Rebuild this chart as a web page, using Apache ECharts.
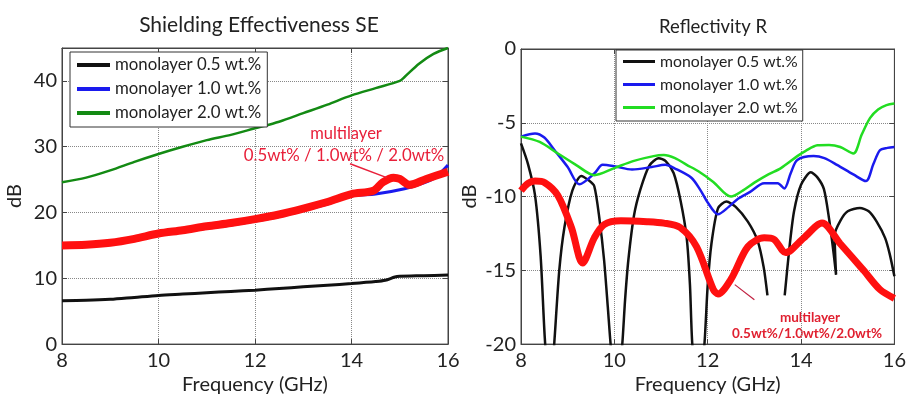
<!DOCTYPE html>
<html>
<head>
<meta charset="utf-8">
<script src="https://cdn.jsdelivr.net/npm/echarts@6/dist/echarts.min.js"></script>
<style>html,body{margin:0;padding:0;background:#fff}#c{width:909px;height:400px}</style>
</head>
<body>
<div id="c"></div>
<script>
// ---------- Data: Shielding Effectiveness SE (dB) ----------
const seNames = ['monolayer 0.5 wt.%', 'monolayer 1.0 wt.%', 'monolayer 2.0 wt.%'];
const freqSE05 = [8,8.5,9,9.5,10,10.5,11,11.5,12,12.5,13,13.5,14,14.5,14.7,14.9,15,15.5,16];
const se05     = [6.6,6.65,6.8,7.1,7.4,7.6,7.8,8.0,8.2,8.45,8.7,8.95,9.2,9.5,9.7,10.2,10.3,10.4,10.5];
const freqSE10 = [8,8.5,9,9.5,10,10.5,11,11.5,12,12.5,13,13.5,14,14.5,15.1,15.5,15.75,16];
const se10     = [14.9,15.0,15.3,15.9,16.6,17.1,17.6,18.1,18.7,19.4,20.3,21.3,22.5,22.8,23.6,24.5,25.4,27.2];
const freqSE20 = [8,8.5,9,9.5,10,10.5,11,11.5,12,12.5,13,13.5,14,14.5,15,15.1,15.4,15.7,16];
const se20     = [24.6,25.3,26.4,27.7,28.9,30.0,31.0,31.8,32.8,33.8,35.1,36.4,37.8,38.9,40.0,40.6,42.6,44.1,45.0];
const freqSEml = [8,8.5,9,9.5,10,10.5,11,11.5,12,12.5,13,13.5,14,14.45,14.65,14.87,15,15.2,15.55,16];
const seMl     = [15.0,15.1,15.4,16.0,16.8,17.3,17.9,18.4,19.0,19.7,20.6,21.6,22.8,23.3,24.6,25.3,25.1,24.2,25.1,26.2];

// ---------- Data: Reflectivity R (dB) ----------
const freqR05 = [8,8.15,8.3,8.42,8.51,8.62,8.72,8.82,8.93,9.1,9.29,9.45,9.57,9.68,9.78,9.86,9.92,10.05,10.17,10.23,10.3,10.42,10.56,10.75,10.95,11.1,11.27,11.42,11.55,11.62,11.67,11.8,11.93,12.0,12.08,12.22,12.4,12.6,12.86,13.07,13.2,13.28,13.45,13.65,13.75,13.85,14.0,14.21,14.35,14.49,14.6,14.7,14.75,14.72,14.85,15.0,15.26,15.45,15.62,15.8,15.9,16];
const r05     = [-6.4,-7.8,-9.9,-14,-19.6,-24,-19.6,-15,-12.1,-9.6,-8.6,-8.9,-9.3,-11.5,-14.3,-17.5,-20,-24,-20,-17,-14.3,-11.3,-9.5,-7.9,-7.4,-7.6,-8.4,-10.3,-12.8,-16,-20,-24,-20,-16,-13.2,-10.8,-10.33,-10.7,-11.7,-13.0,-14.8,-16.7,'-',-16.7,-13.5,-11.0,-9.2,-8.36,-8.7,-9.5,-11.5,-13.9,-15.3,-12.6,-11.6,-11.0,-10.77,-11.0,-11.7,-12.8,-13.9,-15.4];
const freqR10 = [8,8.3,8.5,8.72,9.0,9.25,9.57,9.75,10.0,10.38,10.8,11.09,11.3,11.65,11.85,12.0,12.22,12.45,12.65,12.9,13.21,13.5,13.64,13.78,13.92,14.27,14.5,14.77,15.12,15.39,15.55,15.69,15.85,16];
const r10     = [-5.94,-5.72,-6.0,-6.86,-8.0,-9.17,-8.44,-7.85,-7.95,-8.17,-8.0,-7.85,-8.1,-8.73,-9.6,-10.4,-11.2,-10.7,-10.15,-9.7,-9.1,-9.1,-9.45,-8.4,-7.52,-7.26,-7.4,-7.85,-8.5,-8.95,-7.8,-6.86,-6.7,-6.64];
const freqR20 = [8,8.4,8.79,9.2,9.57,10.0,10.4,10.84,11.06,11.3,11.55,11.8,12.12,12.5,12.75,13.0,13.3,13.57,13.92,14.1,14.35,14.6,14.84,15.12,15.3,15.48,15.65,15.83,16];
const r20     = [-5.94,-6.3,-7.08,-7.9,-8.55,-8.07,-7.6,-7.26,-7.19,-7.4,-7.85,-8.29,-9.01,-10.0,-9.6,-9.06,-8.5,-8.07,-7.26,-6.9,-6.53,-6.5,-6.64,-7.08,-5.8,-4.67,-4.1,-3.8,-3.7];
const freqRml = [8,8.15,8.3,8.51,8.79,9.08,9.32,9.57,9.78,10.14,10.7,11.06,11.41,11.76,12.12,12.22,12.5,12.86,13.21,13.42,13.67,14.06,14.45,14.84,15.34,15.69,16];
const rMl     = [-9.6,-9.1,-8.95,-9.06,-9.93,-12.1,-14.5,-12.8,-11.9,-11.64,-11.7,-11.8,-12.1,-13.4,-16.3,-16.6,-15.6,-13.4,-12.8,-12.9,-13.8,-12.8,-11.8,-13.2,-15.0,-16.3,-16.9];

// tick / text
const freqTicks = [8, 16, 2];
const seRange = [0, 45, 10];
const rRange = [-20, 0, 5];
const titles = ['Shielding Effectiveness SE', 'Reflectivity R'];
const xName = 'Frequency (GHz)';
const yName = 'dB';
const annotLines = ['multilayer', '0.5wt% / 1.0wt% / 2.0wt%', '0.5wt%/1.0wt%/2.0wt%'];

function pairs(xs, ys) { return xs.map((x, i) => [x, ys[i]]); }

const FONT = 'Lato, "Open Sans", sans-serif';
const RED = '#ff1010';
const ANN = '#e8203a';

const chart = echarts.init(document.getElementById('c'), null, {renderer: 'canvas'});

function xAxisOf(gi, nameGap) {
  return {
    type: 'value', gridIndex: gi, min: freqTicks[0], max: freqTicks[1], interval: freqTicks[2],
    name: xName, nameLocation: 'middle', nameGap: nameGap,
    nameTextStyle: {fontFamily: FONT, fontSize: 20, color: '#222'},
    axisLine: {show: true, onZero: false, lineStyle: {color: '#444', width: 1}},
    axisTick: {show: true, inside: true, length: 5, lineStyle: {color: '#444'}},
    axisLabel: {fontFamily: FONT, fontSize: 20, color: '#222', margin: 6},
    splitLine: {show: true, lineStyle: {type: 'dotted', color: '#888', width: 1}}
  };
}
function yAxisOf(gi, range, nameGap, hideMax) {
  return {
    type: 'value', gridIndex: gi, min: range[0], max: range[1], interval: range[2],
    name: yName, nameLocation: 'middle', nameGap: nameGap, nameRotate: 90,
    nameTextStyle: {fontFamily: FONT, fontSize: 20, color: '#222'},
    axisLine: {show: true, onZero: false, lineStyle: {color: '#444', width: 1}},
    axisTick: {show: true, inside: true, length: 5, lineStyle: {color: '#444'}},
    axisLabel: {fontFamily: FONT, fontSize: 20, color: '#222', margin: 5,
      formatter: v => (hideMax && v === range[1]) ? '' : String(v)},
    splitLine: {show: true, lineStyle: {type: 'dotted', color: '#888', width: 1}}
  };
}
// box axes (top / right) with inward ticks, no labels
function xBoxAxis(gi) {
  return {type: 'value', gridIndex: gi, position: 'top', min: freqTicks[0], max: freqTicks[1], interval: freqTicks[2],
    axisLine: {show: true, onZero: false, lineStyle: {color: '#444'}},
    axisTick: {show: true, inside: true, length: 5, lineStyle: {color: '#444'}},
    axisLabel: {show: false}, splitLine: {show: false}};
}
function yBoxAxis(gi, range) {
  return {type: 'value', gridIndex: gi, position: 'right', min: range[0], max: range[1], interval: range[2],
    axisLine: {show: true, onZero: false, lineStyle: {color: '#444'}},
    axisTick: {show: true, inside: true, length: 5, lineStyle: {color: '#444'}},
    axisLabel: {show: false}, splitLine: {show: false}};
}

const option = {
  backgroundColor: '#fff',
  animation: false,
  title: [
    {text: titles[0], left: 254, top: 10, textAlign: 'center',
     textStyle: {fontFamily: FONT, fontSize: 21, fontWeight: 'normal', color: '#222'}},
    {text: titles[1], left: 708, top: 13, textAlign: 'center',
     textStyle: {fontFamily: FONT, fontSize: 18.5, fontWeight: 'normal', color: '#222'}}
  ],
  grid: [
    {left: 62, right: 461, top: 48, bottom: 51, show: true, borderColor: '#444', borderWidth: 1},
    {left: 521, right: 11, top: 49, bottom: 47, show: true, borderColor: '#444', borderWidth: 1}
  ],
  xAxis: [xAxisOf(0, 27), xAxisOf(1, 26), xBoxAxis(0), xBoxAxis(1)],
  yAxis: [yAxisOf(0, seRange, 37, true), yAxisOf(1, rRange, 41, false), yBoxAxis(0, seRange), yBoxAxis(1, rRange)],
  legend: [
    {
      left: 70, top: 52, orient: 'vertical', icon: 'rect', itemWidth: 33, itemHeight: 4, itemGap: 4,
      padding: [3, 6, 4, 7], borderColor: '#333', borderWidth: 1, backgroundColor: '#fff',
      textStyle: {fontFamily: FONT, fontSize: 16.8, color: '#222', lineHeight: 20},
      selectedMode: false,
      data: [
        {name: seNames[0], itemStyle: {color: '#111'}},
        {name: seNames[1], itemStyle: {color: '#1a1aee'}},
        {name: seNames[2], itemStyle: {color: '#138a13'}}
      ]
    },
    {
      left: 616, top: 50, orient: 'vertical', icon: 'rect', itemWidth: 32, itemHeight: 3, itemGap: 4,
      padding: [2, 5, 4, 7], borderColor: '#333', borderWidth: 1, backgroundColor: '#fff',
      textStyle: {fontFamily: FONT, fontSize: 15.8, color: '#222', lineHeight: 19},
      selectedMode: false,
      data: [
        {name: seNames[0], itemStyle: {color: '#111'}},
        {name: seNames[1], itemStyle: {color: '#1a1aee'}},
        {name: seNames[2], itemStyle: {color: '#22dd22'}}
      ]
    }
  ],
  series: [
    {name: seNames[2], type: 'line', xAxisIndex: 0, yAxisIndex: 0, data: pairs(freqSE20, se20),
     showSymbol: false, smooth: 0.3, lineStyle: {color: '#138a13', width: 2.5}, itemStyle: {color: '#138a13'}},
    {name: seNames[0], type: 'line', xAxisIndex: 0, yAxisIndex: 0, data: pairs(freqSE05, se05),
     showSymbol: false, smooth: 0.3, lineStyle: {color: '#111', width: 3}, itemStyle: {color: '#111'}},
    {name: seNames[1], type: 'line', xAxisIndex: 0, yAxisIndex: 0, data: pairs(freqSE10, se10),
     showSymbol: false, smooth: 0.3, lineStyle: {color: '#1a1aee', width: 3}, itemStyle: {color: '#1a1aee'}},
    {name: 'multilayer SE', type: 'line', xAxisIndex: 0, yAxisIndex: 0, data: pairs(freqSEml, seMl),
     showSymbol: false, smooth: 0.3, lineStyle: {color: RED, width: 8}, itemStyle: {color: RED},
     markLine: {silent: true, symbol: 'none', label: {show: false},
       lineStyle: {color: ANN, width: 1.5, type: 'solid'},
       data: [[{coord: [13.97, 27.4]}, {coord: [14.73, 25.3]}]]}},

    {name: seNames[0], type: 'line', xAxisIndex: 1, yAxisIndex: 1, data: pairs(freqR05, r05),
     showSymbol: false, smooth: 0.25, connectNulls: false, lineStyle: {color: '#111', width: 2.5}, itemStyle: {color: '#111'}},
    {name: seNames[1], type: 'line', xAxisIndex: 1, yAxisIndex: 1, data: pairs(freqR10, r10),
     showSymbol: false, smooth: 0.3, lineStyle: {color: '#1a1aee', width: 2.5}, itemStyle: {color: '#1a1aee'}},
    {name: seNames[2], type: 'line', xAxisIndex: 1, yAxisIndex: 1, data: pairs(freqR20, r20),
     showSymbol: false, smooth: 0.3, lineStyle: {color: '#22dd22', width: 2.5}, itemStyle: {color: '#22dd22'}},
    {name: 'multilayer R', type: 'line', xAxisIndex: 1, yAxisIndex: 1, data: pairs(freqRml, rMl),
     showSymbol: false, smooth: 0.3, lineStyle: {color: RED, width: 7}, itemStyle: {color: RED},
     markLine: {silent: true, symbol: 'none', label: {show: false},
       lineStyle: {color: '#c02040', width: 1.2, type: 'solid'},
       data: [[{coord: [12.58, -15.97]}, {coord: [13.0, -16.99]}]]}}
  ],
  graphic: [
    {type: 'text', x: 346, y: 134, style: {text: annotLines[0], fill: ANN, font: '16.5px ' + FONT, textAlign: 'center', textVerticalAlign: 'middle'}},
    {type: 'text', x: 344, y: 156, style: {text: annotLines[1], fill: ANN, font: '16.8px ' + FONT, textAlign: 'center', textVerticalAlign: 'middle'}},
    {type: 'text', x: 810, y: 318, style: {text: annotLines[0], fill: '#e02030', font: 'bold 13.5px ' + FONT, textAlign: 'center', textVerticalAlign: 'middle'}},
    {type: 'text', x: 807, y: 334, style: {text: annotLines[2], fill: '#e02030', font: 'bold 13.5px ' + FONT, textAlign: 'center', textVerticalAlign: 'middle'}}
  ]
};
chart.setOption(option);
</script>
</body>
</html>
